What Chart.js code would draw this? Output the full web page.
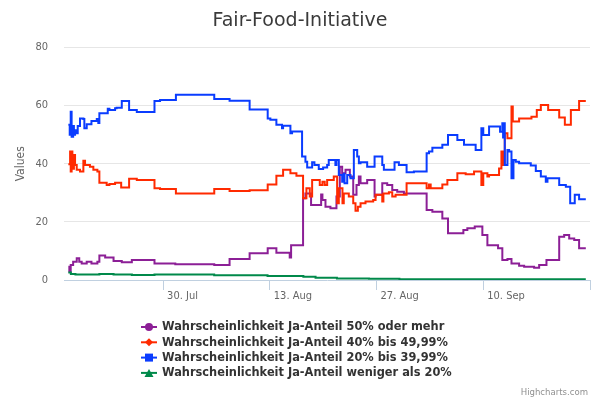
<!DOCTYPE html>
<html>
<head>
<meta charset="utf-8">
<title>Fair-Food-Initiative</title>
<script src="https://cdn.jsdelivr.net/npm/chart.js@4.4.1/dist/chart.umd.min.js"></script>
<style>
  html, body { margin: 0; padding: 0; background: #fff; }
  #chart { display: block; }
</style>
</head>
<body>
<canvas id="chart" width="600" height="400"></canvas>
<script>
// x = days counted from 1 Jul 2018, y = percent
const purpleDays = [16.57, 16.7, 16.88, 17.2, 17.67, 18.0, 18.32, 18.98, 19.6, 20.38, 20.64, 21.4, 22.5, 23.58, 24.9, 27.87, 30.6, 35.71, 37.72, 40.35, 42.72, 43.86, 45.61, 45.79, 47.36, 47.67, 48.41, 49.73, 49.9, 50.3, 50.95, 51.74, 52.18, 52.49, 52.93, 53.5, 53.94, 54.37, 54.68, 54.9, 55.77, 56.74, 56.87, 57.75, 58.4, 59.06, 59.71, 60.59, 63.57, 64.32, 65.63, 66.37, 68.39, 68.91, 69.88, 70.88, 71.54, 72.94, 73.5, 74.17, 74.7, 75.7, 76.36, 77.67, 78.33, 79.29, 80.96, 81.61, 82.27, 82.93, 83.57, 84.45];
const purpleValues = [4.6, 2.9, 5.2, 6.3, 7.5, 6.3, 5.7, 6.3, 5.7, 6.3, 8.4, 7.7, 6.5, 6.1, 6.9, 5.7, 5.4, 5.2, 7.2, 9.2, 10.9, 9.4, 7.7, 12.0, 28.1, 29.8, 25.8, 29.4, 27.5, 25.2, 24.7, 28.7, 39.0, 36.7, 37.9, 35.6, 29.3, 32.7, 35.6, 33.3, 34.4, 28.7, 29.3, 33.3, 32.7, 31.0, 30.4, 29.8, 24.1, 23.5, 21.2, 16.1, 17.2, 17.8, 18.4, 15.5, 12.0, 10.9, 6.9, 7.2, 5.7, 4.9, 4.6, 4.2, 5.2, 6.9, 14.9, 15.5, 14.3, 13.8, 10.9, 10.9];

const redDays = [16.57, 16.8, 16.88, 17.0, 17.1, 17.3, 17.45, 17.67, 18.1, 18.54, 18.76, 19.4, 19.85, 20.38, 20.64, 21.6, 21.96, 22.7, 23.5, 24.54, 25.55, 27.87, 28.6, 30.68, 35.71, 37.72, 40.35, 42.72, 43.86, 44.74, 45.7, 46.49, 47.36, 47.8, 48.24, 48.55, 49.55, 49.9, 50.2, 50.52, 51.39, 51.83, 52.05, 52.53, 52.7, 53.36, 53.94, 54.24, 54.55, 54.9, 55.55, 56.56, 56.87, 57.75, 57.9, 58.62, 59.06, 59.5, 60.94, 63.57, 63.88, 64.1, 65.63, 66.29, 67.6, 68.69, 69.79, 70.75, 71.0, 71.54, 71.76, 73.07, 73.38, 73.64, 73.82, 74.17, 74.7, 74.87, 75.7, 77.32, 78.02, 78.55, 79.51, 80.96, 81.7, 82.49, 83.57, 84.45];
const redValues = [39.8, 44.2, 37.3, 44.2, 38.3, 43.0, 39.6, 37.9, 37.3, 41.0, 39.6, 39.0, 37.9, 37.3, 33.5, 32.7, 33.0, 33.5, 31.8, 34.8, 34.4, 31.6, 31.3, 29.8, 31.3, 30.6, 30.9, 32.9, 35.9, 37.9, 36.7, 35.9, 28.1, 31.6, 28.7, 34.4, 32.7, 33.8, 32.7, 34.4, 35.6, 26.4, 31.6, 26.4, 29.8, 28.7, 26.4, 23.8, 25.2, 26.4, 27.0, 27.5, 29.3, 27.0, 29.8, 30.2, 28.7, 29.3, 33.3, 31.6, 32.9, 31.6, 32.9, 34.4, 36.7, 36.4, 37.3, 32.7, 36.7, 35.6, 36.1, 38.4, 44.2, 39.6, 50.5, 48.8, 59.7, 54.5, 55.6, 56.2, 58.5, 60.2, 58.5, 55.9, 53.4, 58.5, 61.6, 61.6];

const blueDays = [16.57, 16.75, 16.88, 17.0, 17.2, 17.3, 17.45, 17.58, 17.8, 18.1, 18.54, 18.67, 18.98, 19.6, 20.3, 20.5, 20.64, 21.74, 21.96, 22.7, 22.9, 23.58, 24.54, 25.55, 27.87, 28.6, 30.68, 35.71, 37.72, 40.35, 42.72, 43.07, 43.86, 44.6, 44.74, 45.7, 45.92, 47.23, 47.67, 47.9, 48.55, 48.85, 49.42, 49.99, 50.52, 50.73, 51.6, 51.74, 52.05, 52.49, 52.7, 52.8, 53.15, 53.58, 54.02, 54.46, 54.68, 54.9, 55.77, 56.74, 57.75, 57.96, 59.36, 59.93, 60.94, 61.9, 63.57, 63.88, 64.32, 65.63, 66.37, 67.6, 68.47, 70.0, 70.75, 71.0, 71.76, 73.2, 73.5, 73.6, 73.73, 73.82, 74.17, 74.39, 74.7, 74.96, 75.26, 75.7, 77.23, 77.89, 78.55, 79.2, 79.42, 80.96, 81.83, 82.4, 83.0, 83.57, 84.45];
const blueValues = [53.4, 50.0, 57.9, 49.3, 53.0, 50.0, 51.5, 50.5, 53.0, 55.6, 55.4, 52.2, 53.6, 54.7, 55.4, 54.0, 57.4, 58.9, 58.5, 59.1, 59.3, 61.6, 58.5, 57.8, 61.6, 61.9, 63.7, 62.3, 61.7, 58.7, 55.6, 55.1, 53.4, 52.2, 53.1, 50.5, 51.1, 42.5, 40.7, 38.7, 40.5, 39.6, 38.2, 38.7, 39.6, 41.3, 39.6, 41.3, 36.1, 33.8, 36.6, 33.3, 36.1, 35.0, 44.7, 42.5, 40.2, 40.5, 39.0, 42.5, 39.6, 37.9, 40.5, 39.6, 37.1, 37.3, 43.6, 44.2, 45.5, 46.5, 49.9, 48.2, 46.5, 44.7, 52.2, 49.9, 52.8, 51.0, 53.9, 49.0, 53.9, 39.6, 44.7, 44.2, 35.0, 41.3, 40.7, 40.2, 39.4, 37.5, 35.6, 33.8, 35.0, 32.7, 32.1, 26.4, 29.3, 27.8, 27.8];

const greenDays = [16.57, 16.9, 17.5, 20.64, 22.5, 24.9, 27.87, 35.7, 42.7, 47.4, 49.0, 51.8, 56.0, 60.0, 84.45];
const greenValues = [2.6, 2.1, 1.9, 2.1, 1.9, 1.7, 1.9, 1.6, 1.4, 1.1, 0.8, 0.5, 0.4, 0.3, 0.3];

const seriesNames = [
  "Wahrscheinlichkeit Ja-Anteil 50% oder mehr",
  "Wahrscheinlichkeit Ja-Anteil 40% bis 49,99%",
  "Wahrscheinlichkeit Ja-Anteil 20% bis 39,99%",
  "Wahrscheinlichkeit Ja-Anteil weniger als 20%"
];
const seriesColors = ["#8c1f96", "#ff2a00", "#0a3cff", "#00894a"];
const seriesMarkers = ["circle", "diamond", "square", "triangle"];

const xTickDays = [29, 43, 57, 71, 85]; // 30 Jul, 13 Aug, 27 Aug, 10 Sep, 24 Sep
const yTickValues = [0, 20, 40, 60, 80];
const monthNames = ["Jan", "Feb", "Mär", "Apr", "Mai", "Jun", "Jul", "Aug", "Sep", "Okt", "Nov", "Dez"];

const FONT = "'DejaVu Sans Condensed', 'DejaVu Sans', sans-serif";
const FONT_WIDE = "'DejaVu Sans', sans-serif";

function toPoints(days, values) {
  return days.map((d, i) => ({ x: d, y: values[i] }));
}

function dayLabel(day) {
  let d = new Date(Date.UTC(2018, 6, 1 + day));
  return d.getUTCDate() + ". " + monthNames[d.getUTCMonth()];
}

const allDays = [purpleDays, redDays, blueDays, greenDays];
const allValues = [purpleValues, redValues, blueValues, greenValues];

const datasets = seriesNames.map((name, i) => ({
  label: name,
  data: toPoints(allDays[i], allValues[i]),
  borderColor: seriesColors[i],
  backgroundColor: seriesColors[i],
  borderWidth: 2,
  pointRadius: 0,
  stepped: "before",
  fill: false,
  order: 4 - i
}));

// draw a legend symbol: short line plus marker
function drawMarker(ctx, type, x, y, color) {
  ctx.fillStyle = color;
  ctx.beginPath();
  if (type === "circle") {
    ctx.arc(x, y, 4, 0, Math.PI * 2);
  } else if (type === "diamond") {
    ctx.moveTo(x, y - 4); ctx.lineTo(x + 4, y); ctx.lineTo(x, y + 4); ctx.lineTo(x - 4, y);
  } else if (type === "square") {
    ctx.rect(x - 4, y - 4, 8, 8);
  } else {
    ctx.moveTo(x, y - 4); ctx.lineTo(x + 4.5, y + 4); ctx.lineTo(x - 4.5, y + 4);
  }
  ctx.closePath();
  ctx.fill();
}

const decorPlugin = {
  id: "decor",
  afterDraw(chart) {
    const ctx = chart.ctx;
    ctx.save();
    // title
    ctx.fillStyle = "#3a3a3a";
    ctx.font = "19px " + FONT_WIDE;
    ctx.textAlign = "center";
    ctx.textBaseline = "alphabetic";
    ctx.fillText("Fair-Food-Initiative", 300, 26);

    // legend
    ctx.font = "bold 11.4px " + FONT_WIDE;
    ctx.textAlign = "left";
    ctx.textBaseline = "middle";
    seriesNames.forEach((name, i) => {
      const y = 327 + i * 15.3;
      ctx.strokeStyle = seriesColors[i];
      ctx.lineWidth = 2;
      ctx.beginPath();
      ctx.moveTo(141, y);
      ctx.lineTo(157, y);
      ctx.stroke();
      drawMarker(ctx, seriesMarkers[i], 149, y, seriesColors[i]);
      ctx.fillStyle = "#333333";
      ctx.fillText(name, 162, y + 0.5);
    });

    // credits
    ctx.font = "9.5px " + FONT;
    ctx.fillStyle = "#909090";
    ctx.textAlign = "right";
    ctx.textBaseline = "alphabetic";
    ctx.fillText("Highcharts.com", 588, 395);
    ctx.restore();
  }
};

new Chart(document.getElementById("chart"), {
  type: "line",
  data: { datasets: datasets },
  options: {
    responsive: false,
    animation: false,
    devicePixelRatio: 1,
    layout: { padding: { top: 47.5, right: 10, bottom: 0, left: 0 } },
    plugins: {
      legend: { display: false },
      title: { display: false },
      tooltip: { enabled: false }
    },
    scales: {
      x: {
        type: "linear",
        min: 16,
        max: 85,
        afterBuildTicks: scale => { scale.ticks = xTickDays.map(v => ({ value: v })); },
        afterFit: scale => { scale.height = 120; },
        ticks: {
          autoSkip: false,
          maxRotation: 0,
          align: "start",
          labelOffset: 4,
          padding: 0,
          color: "#666666",
          font: { family: FONT, size: 11 },
          callback: v => (v === 85 ? "" : dayLabel(v))
        },
        grid: {
          drawOnChartArea: false,
          drawTicks: true,
          tickLength: 10,
          color: "#C0D0E0",
          tickColor: "#C0D0E0"
        },
        border: { display: true, color: "#C0D0E0", width: 1 }
      },
      y: {
        min: 0,
        max: 80,
        afterBuildTicks: scale => { scale.ticks = yTickValues.map(v => ({ value: v })); },
        afterFit: scale => { scale.width = 64; },
        ticks: {
          padding: 16,
          color: "#666666",
          font: { family: FONT, size: 11 }
        },
        grid: {
          drawTicks: false,
          color: c => (c.tick && c.tick.value === 0 ? "rgba(0,0,0,0)" : "#E6E6E6")
        },
        border: { display: false },
        title: {
          display: true,
          text: "Values",
          color: "#666666",
          font: { family: FONT, size: 12 },
          padding: { top: 14, bottom: 0 }
        }
      }
    }
  },
  plugins: [decorPlugin]
});
</script>
</body>
</html>
